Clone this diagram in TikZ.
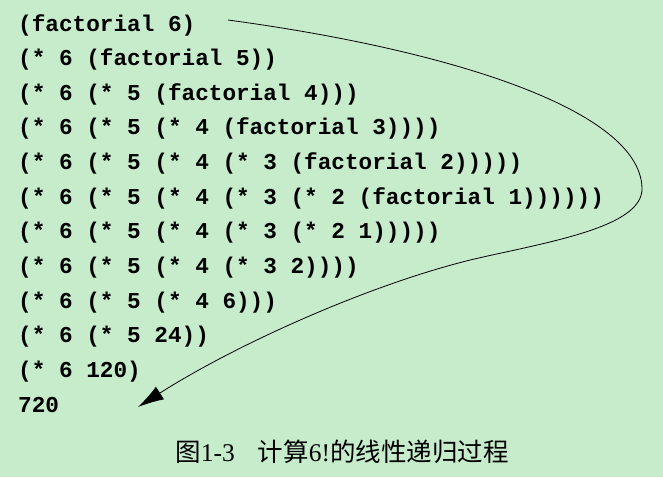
\documentclass[tikz,border=0pt]{standalone}
\usepackage{fontspec}
\setmonofont{Liberation Mono}
\newfontfamily\cjk{Noto Sans CJK SC}
\newfontfamily\capserif{Liberation Serif}
\usetikzlibrary{arrows.meta}
\definecolor{bggreen}{RGB}{198,236,204}
\tikzset{
  codeline/.style={anchor=base west, inner sep=0pt, font=\fontsize{22.7}{24}\selectfont\ttfamily\bfseries},
  captext/.style={anchor=center, inner sep=0pt, font=\fontsize{25.5}{27}\selectfont},
  flow/.style={line width=0.8pt, -{Latex[length=26pt,width=15pt]}}
}
\begin{document}
\begin{tikzpicture}[x=1pt,y=-1pt]
\fill[bggreen] (0,0) rectangle (663,477);
\useasboundingbox (0,0) rectangle (663,477);
\node[codeline] (l1)  at (18,31.0)  {(factorial 6)};
\node[codeline] (l2)  at (18,65.6)  {(* 6 (factorial 5))};
\node[codeline] (l3)  at (18,100.3) {(* 6 (* 5 (factorial 4)))};
\node[codeline] (l4)  at (18,134.9) {(* 6 (* 5 (* 4 (factorial 3))))};
\node[codeline] (l5)  at (18,169.6) {(* 6 (* 5 (* 4 (* 3 (factorial 2)))))};
\node[codeline] (l6)  at (18,204.2) {(* 6 (* 5 (* 4 (* 3 (* 2 (factorial 1))))))};
\node[codeline] (l7)  at (18,238.8) {(* 6 (* 5 (* 4 (* 3 (* 2 1)))))};
\node[codeline] (l8)  at (18,273.5) {(* 6 (* 5 (* 4 (* 3 2))))};
\node[codeline] (l9)  at (18,308.1) {(* 6 (* 5 (* 4 6)))};
\node[codeline] (l10) at (18,342.8) {(* 6 (* 5 24))};
\node[codeline] (l11) at (18,377.4) {(* 6 120)};
\node[codeline] (l12) at (18,412.0) {720};
\node[captext] (cap) at (342,452) {{\cjk 图}{\capserif 1-3}\hspace{0.9em}{\cjk 计算}{\capserif 6!}{\cjk 的线性递归过程}};
\coordinate (s) at (228,20);
\coordinate (m1) at (642,188);
\coordinate (m2) at (483,257);
\coordinate (e) at (138,407);
\draw[flow] (s) .. controls (450,50) and (640,110) .. (m1)
  .. controls (643,225) and (560,240) .. (m2)
  .. controls (380,280) and (240,342) .. (e);
\end{tikzpicture}
\end{document}
